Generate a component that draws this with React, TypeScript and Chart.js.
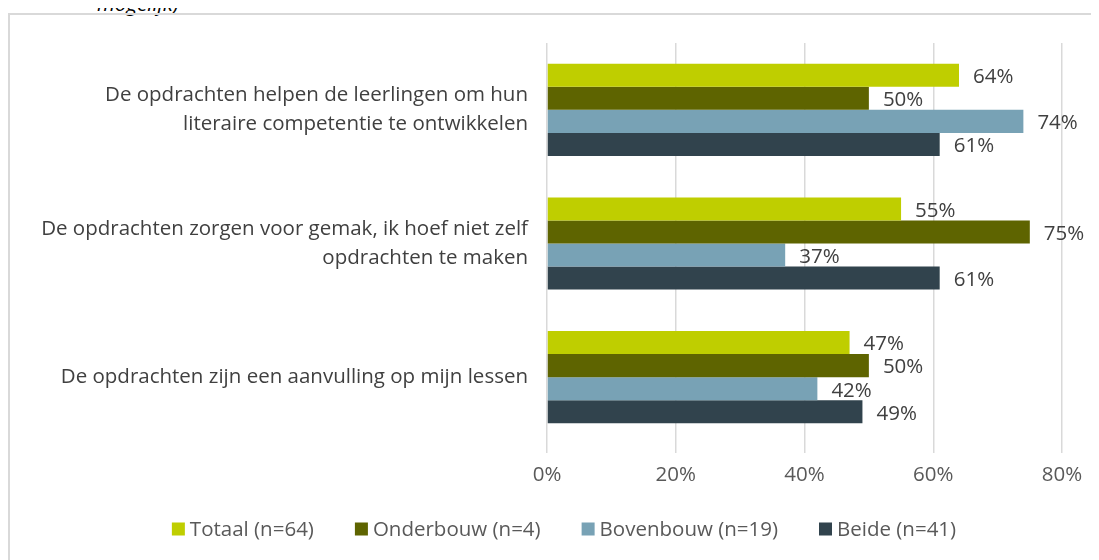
import React, { useEffect, useRef } from "react";
import { Chart, registerables } from "chart.js";

Chart.register(...registerables);

const categories: string[][] = [
  ["De opdrachten helpen de leerlingen om hun", "literaire competentie te ontwikkelen"],
  ["De opdrachten zorgen voor gemak, ik hoef niet zelf", "opdrachten te maken"],
  ["De opdrachten zijn een aanvulling op mijn lessen"],
];
const seriesNames = ["Totaal (n=64)", "Onderbouw (n=4)", "Bovenbouw (n=19)", "Beide (n=41)"];
const totaal = [64, 55, 47];
const onderbouw = [50, 75, 50];
const bovenbouw = [74, 37, 42];
const beide = [61, 61, 49];
const seriesColors = ["#BFCE00", "#5E6400", "#78A2B5", "#31434D"];
const xTicks = [0, 20, 40, 60, 80];

const FONT = "'Open Sans', sans-serif";
const FS = 20.5;

const valueLabels = {
  id: "valueLabels",
  afterDatasetsDraw(chart: any) {
    const ctx = chart.ctx;
    ctx.save();
    ctx.font = `${FS}px ${FONT}`;
    ctx.fillStyle = "#404040";
    ctx.textAlign = "left";
    ctx.textBaseline = "middle";
    chart.data.datasets.forEach((ds: any, i: number) => {
      const meta = chart.getDatasetMeta(i);
      meta.data.forEach((el: any, j: number) => {
        ctx.fillText(ds.data[j] + "%", el.x + 14, el.y + 2);
      });
    });
    ctx.restore();
  },
};

const customLegend = {
  id: "customLegend",
  afterDraw(chart: any) {
    const ctx = chart.ctx;
    const box = 13;
    const gap = 5;
    const spacing = 41;
    const centerX = 556;
    const centerY = 521;
    ctx.save();
    ctx.font = `${FS}px ${FONT}`;
    ctx.textBaseline = "middle";
    ctx.textAlign = "left";
    const items = chart.data.datasets.map((ds: any) => ({
      label: ds.label,
      color: ds.backgroundColor,
      w: ctx.measureText(ds.label).width,
    }));
    const total =
      items.reduce((a: number, it: any) => a + box + gap + it.w, 0) + spacing * (items.length - 1);
    let x = centerX - total / 2;
    items.forEach((it: any) => {
      ctx.fillStyle = it.color;
      ctx.fillRect(x, centerY - box / 2, box, box);
      ctx.fillStyle = "#595959";
      ctx.fillText(it.label, x + box + gap, centerY + 1);
      x += box + gap + it.w + spacing;
    });
    ctx.restore();
  },
};

export default function App() {
  const ref = useRef<HTMLCanvasElement>(null);
  useEffect(() => {
    if (!ref.current) return;
    const seriesData = [totaal, onderbouw, bovenbouw, beide];
    const chart = new Chart(ref.current, {
      type: "bar",
      data: {
        labels: categories,
        datasets: seriesNames.map((n, i) => ({
          label: n,
          data: seriesData[i],
          backgroundColor: seriesColors[i],
          borderWidth: 0,
          categoryPercentage: 0.69,
          barPercentage: 1,
        })),
      },
      options: {
        indexAxis: "y",
        animation: false,
        responsive: false,
        layout: { padding: { top: 35, right: 37, left: 0, bottom: 70 } },
        plugins: {
          legend: { display: false },
          tooltip: { enabled: false },
        },
        scales: {
          x: {
            min: 0,
            max: 80,
            afterBuildTicks: (s: any) => {
              s.ticks = xTicks.map((v) => ({ value: v }));
            },
            afterFit: (s: any) => {
              s.height = 46;
            },
            ticks: {
              color: "#595959",
              font: { family: FONT, size: FS },
              padding: 10,
              callback: (v: any) => v + "%",
            },
            grid: { color: "#d9d9d9", lineWidth: 1.5, tickLength: 9 },
            border: { display: false },
          },
          y: {
            afterFit: (s: any) => {
              s.width = 539;
            },
            ticks: {
              color: "#404040",
              font: { family: FONT, size: FS, lineHeight: 29 / FS },
              padding: 19,
            },
            grid: { display: false, drawTicks: false },
            border: { display: false },
          },
        },
      },
      plugins: [valueLabels, customLegend],
    });
    return () => chart.destroy();
  }, []);

  return (
    <div style={{ position: "relative", width: 1091, height: 552 }}>
      <div
        style={{
          position: "absolute",
          left: 89,
          top: -17,
          fontFamily: FONT,
          fontStyle: "italic",
          fontSize: FS,
          lineHeight: "25px",
          color: "#000",
          whiteSpace: "nowrap",
        }}
      >
        mogelijk)
      </div>
      <div
        style={{
          position: "absolute",
          left: 0,
          top: 5,
          width: 1100,
          height: 600,
          border: "2px solid #d9d9d9",
          boxSizing: "border-box",
        }}
      />
      <canvas
        ref={ref}
        width={1091}
        height={552}
        style={{ position: "absolute", left: 0, top: 0, width: 1091, height: 552 }}
      />
    </div>
  );
}
